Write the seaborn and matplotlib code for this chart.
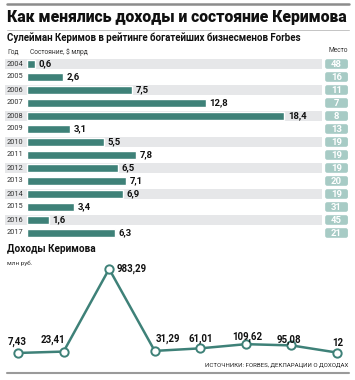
import matplotlib
matplotlib.use("Agg")
import matplotlib.pyplot as plt
from matplotlib.lines import Line2D
from matplotlib.patches import FancyBboxPatch
import numpy as np
import pandas as pd
import seaborn as sns

# Forbes wealth, $ bn, and rank
YEARS = ["2004", "2005", "2006", "2007", "2008", "2009", "2010",
         "2011", "2012", "2013", "2014", "2015", "2016", "2017"]
WEALTH = [0.6, 2.6, 7.5, 12.8, 18.4, 3.1, 5.5, 7.8, 6.5, 7.1, 6.9, 3.4, 1.6, 6.3]
RANKS = [48, 16, 11, 7, 8, 13, 19, 19, 19, 20, 19, 31, 45, 21]

# Declared income, mln rub
INCOME = [7.43, 23.41, 983.29, 31.29, 61.01, 109.62, 95.08, 12]
INCOME_LABELS = ["7,43", "23,41", "983,29", "31,29", "61,01", "109,62", "95,08", "12"]
# label placement in pixels (dx, dy) and horizontal alignment
LABEL_OFFSETS = [(-1, 11), (-11, 12), (7, 0), (13, 12), (0, 10), (1, 7), (-2.5, 6), (1, 10)]
LABEL_HA = ["center", "center", "left", "center", "center", "center", "center", "center"]

TEAL = "#3e8178"
TEAL_LIGHT = "#a7cbc5"
BAND = "#e6e7e9"
FONT = "Roboto"

W, H = 355, 380
sns.set_theme(style="white")
plt.rcParams["font.family"] = [FONT, "DejaVu Sans"]

fig = plt.figure(figsize=(W / 100, H / 100), dpi=100)
fig.patch.set_facecolor("white")


def fx(px):
    return px / W


def fy(py):
    return 1 - py / H


def px_axes(x0, x1, y0, y1):
    return fig.add_axes([fx(x0), fy(y1), fx(x1) - fx(x0), fy(y0) - fy(y1)])


# frame lines
for y, lw, col in [(3.5, 1.8, "#8c8c8c"), (30, 0.7, "#c4c4c4"), (373, 1.5, "#9a9a9a")]:
    fig.add_artist(Line2D([fx(7), fx(349)], [fy(y), fy(y)], lw=lw, color=col,
                          transform=fig.transFigure))

fig.text(fx(7), fy(22), "Как менялись доходы и состояние Керимова",
         fontsize=11.3, fontweight="black", color="#111111", va="baseline")
fig.text(fx(7), fy(41), "Сулейман Керимов в рейтинге богатейших бизнесменов Forbes",
         fontsize=7.0, fontweight="bold", color="#111111", va="baseline")
fig.text(fx(7), fy(54), "Год", fontsize=4.8, color="#333333", va="baseline")
fig.text(fx(30), fy(54), "Состояние, $ млрд", fontsize=4.8, color="#333333", va="baseline")
fig.text(fx(348), fy(52.5), "Место", fontsize=4.8, color="#333333", va="baseline", ha="right")

# ---- wealth bars ----
ax = px_axes(5, 322, 57.5, 239.5)
px_per_unit = 14.0
zero_px = 26.7
ax.set_xlim(-(zero_px - 5) / px_per_unit, (322 - zero_px) / px_per_unit)

for i in range(0, len(YEARS), 2):
    ax.axhspan(i - 0.385, i + 0.385, color=BAND, zorder=0, lw=0)

df = pd.DataFrame({"year": YEARS, "wealth": WEALTH})
sns.barplot(data=df, x="wealth", y="year", orient="h", color=TEAL, width=0.66,
            saturation=1, ax=ax, zorder=2)
ax.set_ylim(len(YEARS) - 0.5, -0.5)
ax.set_axis_off()

for i, (yr, v) in enumerate(zip(YEARS, WEALTH)):
    ax.text((7 - zero_px) / px_per_unit, i, yr, fontsize=5.3, color="#333333",
            va="center", ha="left")
    ax.annotate(f"{v:.1f}".replace(".", ","), (v, i), xytext=(3.6, 0),
                textcoords="offset pixels", fontsize=6.8, fontweight="bold",
                color="#111111", va="center", ha="left")

# ---- rank boxes ----
rax = px_axes(324, 349, 57.5, 239.5)
rax.set_xlim(0, 25 / 13)
rax.set_ylim(len(YEARS) - 0.5, -0.5)
rax.set_axis_off()
for i, r in enumerate(RANKS):
    box = FancyBboxPatch((0.09, i - 0.37), 1.75, 0.74,
                         boxstyle="round,pad=0,rounding_size=0.16",
                         fc=TEAL_LIGHT, ec="none")
    rax.add_patch(box)
    rax.text(0.965, i + 0.03, str(r), fontsize=6.8, fontweight="bold", color="white",
             ha="center", va="center")

# ---- income line ----
fig.text(fx(7), fy(252), "Доходы Керимова", fontsize=7.2, fontweight="bold",
         color="#111111", va="baseline")
fig.text(fx(7), fy(265), "млн руб.", fontsize=4.6, color="#333333", va="baseline")
fig.text(fx(348), fy(365.7), "ИСТОЧНИКИ: FORBES, ДЕКЛАРАЦИИ О ДОХОДАХ", fontsize=4.4,
         color="#222222", va="baseline", ha="right")

lax = px_axes(0, 355, 255, 365)
step = (337 - 18) / 7
scale = 0.0861
base = 353.6
lax.set_xlim(-18 / step, (355 - 18) / step)
lax.set_ylim(-(365 - base) / scale, (base - 255) / scale)
lax.set_axis_off()

idx = np.arange(len(INCOME))
sns.lineplot(x=idx, y=INCOME, ax=lax, color=TEAL, lw=1.8, marker="o", markersize=6.0,
             markerfacecolor="white", markeredgecolor=TEAL, markeredgewidth=1.4,
             clip_on=False)
for i, (v, lab, (dx, dy), ha) in enumerate(zip(INCOME, INCOME_LABELS, LABEL_OFFSETS, LABEL_HA)):
    lax.annotate(lab, (i, v), xytext=(dx, dy), textcoords="offset pixels",
                 fontsize=7.0, fontweight="bold", color="#111111", ha=ha, va="center")

fig.savefig("out.png", dpi=100)
